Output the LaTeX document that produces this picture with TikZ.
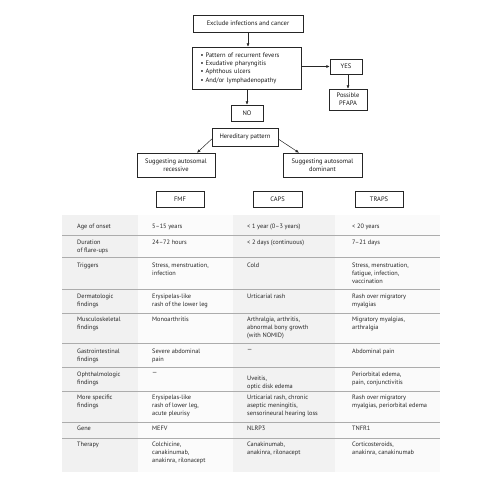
\documentclass[tikz,border=0pt]{standalone}
\usepackage{fontspec}
\setmainfont{PT Sans}
\usetikzlibrary{arrows.meta}
\newcommand\tabrow[6]{%
  \node[cell] (#1a) at (77,#2) {#3};
  \node[cell] (#1b) at (152,#2) {#4};
  \node[cell] (#1c) at (247,#2) {#5};
  \node[cell] (#1d) at (352,#2) {#6};}
\begin{document}
\begin{tikzpicture}[x=1pt,y=-1pt,
  box/.style={draw=black!85, line width=0.5pt, fill=white, inner sep=0pt, align=center,
    font=\fontsize{6.5}{8}\selectfont, text=black!90},
  arr/.style={-{Latex[length=3.5pt,width=3pt]}, line width=0.5pt, draw=black!85},
  cell/.style={anchor=north west, inner sep=0pt, align=left,
    font=\fontsize{6.3}{7.7}\selectfont, text=black!85},
  sep/.style={draw=gray!65, line width=0.8pt}]
\useasboundingbox (0,0) rectangle (490,490);

% flowchart
\node[box, minimum width=110pt, minimum height=17pt] (ex) at (248,23.5) {Exclude infections and cancer};
\node[box, minimum height=42pt, text width=93pt, inner xsep=8pt, align=left,
  font=\fontsize{6.5}{8.3}\selectfont] (sym) at (247,68)
  {• Pattern of recurrent fevers\\• Exudative pharyngitis\\• Aphthous ulcers\\• And/or lymphadenopathy};
\node[box, minimum width=32pt, minimum height=15pt] (yes) at (346,66.5) {YES};
\node[box, minimum width=38pt, minimum height=21pt] (pf) at (348,99.5) {Possible\\PFAPA};
\node[box, minimum width=32pt, minimum height=16pt] (no) at (247,113) {NO};
\node[box, minimum width=66pt, minimum height=18pt] (her) at (245,137) {Hereditary pattern};
\node[box, minimum width=78pt, minimum height=24pt] (rec) at (176,165) {Suggesting autosomal\\recessive};
\node[box, minimum width=79pt, minimum height=24pt] (dom) at (322.5,165) {Suggesting autosomal\\dominant};
\node[box, minimum width=48pt, minimum height=16pt] (fmf) at (180,199) {FMF};
\node[box, minimum width=49pt, minimum height=16pt] (caps) at (277.5,199) {CAPS};
\node[box, minimum width=48pt, minimum height=16pt] (traps) at (379,199) {TRAPS};

\draw[arr] (ex.south) -- (ex.south |- sym.north);
\draw[arr] (sym.east |- yes.west) -- (yes.west);
\draw[arr] (pf.north |- yes.south) -- (pf.north);
\draw[arr] (no.north |- sym.south) -- (no.north);
\draw[arr] ([yshift=-2pt]her.west) -- ([xshift=21pt]rec.north);
\draw[arr] ([yshift=-2pt]her.east) -- ([xshift=-23.5pt]dom.north);

% table background
\fill[gray!11] (62,215) rectangle (138,472);
\fill[gray!3] (138,215) rectangle (233,472);
\fill[gray!10] (233,215) rectangle (335,472);
\fill[gray!4] (335,215) rectangle (440,472);
\foreach \y in {235,257,289,313,343,367,391,422,438}
  \draw[sep] (62,\y) -- (440,\y);

\tabrow{r1}{224}{Age of onset}{5–15 years}{< 1 year (0–3 years)}{< 20 years}
\tabrow{r2}{240}{Duration\\of flare-ups}{24–72 hours}{< 2 days (continuous)}{7–21 days}
\tabrow{r3}{263}{Triggers}{Stress, menstruation,\\infection}{Cold}{Stress, menstruation,\\fatigue, infection,\\vaccination}
\tabrow{r4}{294}{Dermatologic\\findings}{Erysipelas-like\\rash of the lower leg}{Urticarial rash}{Rash over migratory\\myalgias}
\tabrow{r5}{317}{Musculoskeletal\\findings}{Monoarthritis}{Arthralgia, arthritis,\\abnormal bony growth\\(with NOMID)}{Migratory myalgias,\\arthralgia}
\tabrow{r6}{349}{Gastrointestinal\\findings}{Severe abdominal\\pain}{—}{Abdominal pain}
\node[cell] (r7a) at (77,372) {Ophthalmologic\\findings};
\node[cell] (r7b) at (152,372) {—};
\node[cell] (r7c) at (247,376) {Uveitis,\\optic disk edema};
\node[cell] (r7d) at (352,372) {Periorbital edema,\\pain, conjunctivitis};
\tabrow{r8}{395}{More specific\\findings}{Erysipelas-like\\rash of lower leg,\\acute pleurisy}{Urticarial rash, chronic\\aseptic meningitis,\\sensorineural hearing loss}{Rash over migratory\\myalgias, periorbital edema}
\tabrow{r9}{426}{Gene}{MEFV}{NLRP3}{TNFR1}
\tabrow{r10}{442}{Therapy}{Colchicine,\\canakinumab,\\anakinra, rilonacept}{Canakinumab,\\anakinra, rilonacept}{Corticosteroids,\\anakinra, canakinumab}
\end{tikzpicture}
\end{document}
